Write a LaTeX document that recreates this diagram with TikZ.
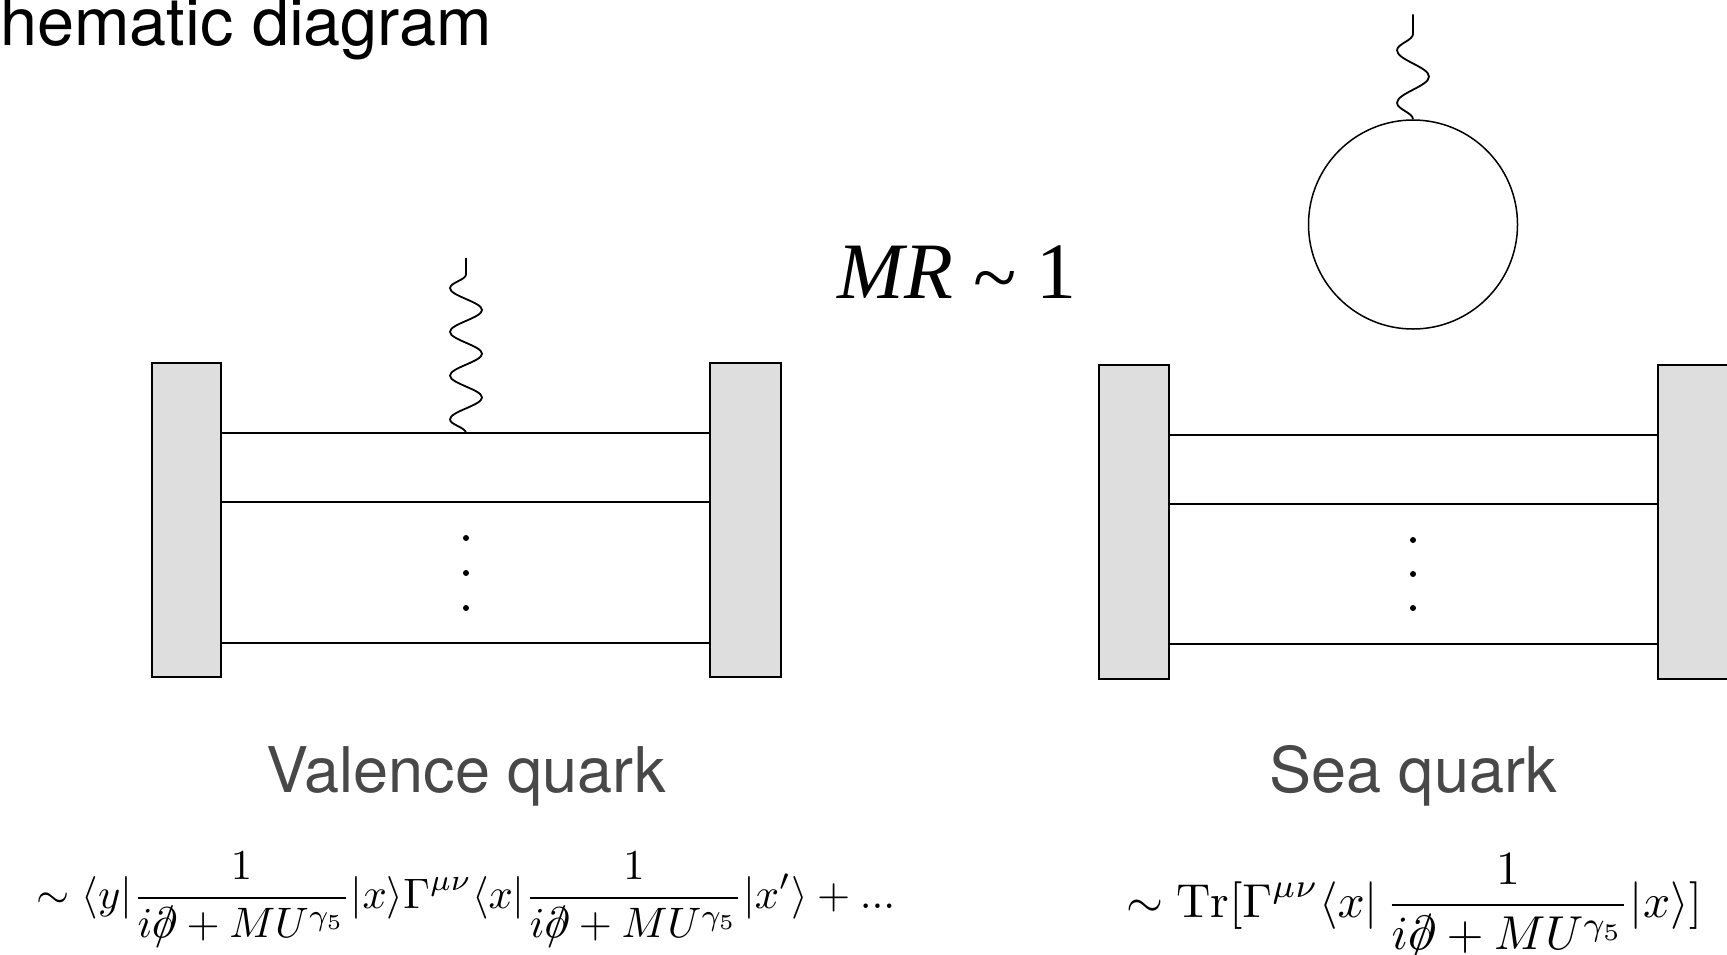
\documentclass[tikz,border=0pt]{standalone}
\usepackage{amsmath}
\usepackage{graphicx}
\usepackage{fontspec}
\newfontfamily\helvfont{TeX Gyre Heros}
\newfontfamily\timesfont{Liberation Serif}
\usetikzlibrary{decorations.pathmorphing}
\definecolor{blkgray}{HTML}{DEDEDE}
\definecolor{lblgray}{HTML}{484848}
\newcommand{\pslash}{\mathord{\ooalign{$\partial$\cr\hidewidth$/$\hidewidth\cr}}}
\newcommand{\prop}{\frac{1}{i\pslash+MU^{\gamma_5}}}
\newcommand{\bigmath}[2]{\scalebox{#1}{$\displaystyle #2$}}

\begin{document}
\begin{tikzpicture}[
    x=0.5pt, y=-0.5pt,
    blk/.style={fill=blkgray, draw=black, line width=1pt},
    qline/.style={draw=black, line width=0.75pt},
    photon/.style={draw=black, line width=0.9pt, decorate},
    dotc/.style={circle, fill=black, inner sep=0pt, minimum size=3pt},
    ttl/.style={font=\helvfont\fontsize{33.3}{38}\selectfont, inner sep=0pt},
    lbl/.style={font=\helvfont\fontsize{31.5}{36}\selectfont, text=lblgray, inner sep=0pt},
    frm/.style={inner sep=0pt},
]
\useasboundingbox (0,0) rectangle (1727,954);
\node[ttl, anchor=base west] (title) at (0,45) {hematic diagram};
% valence quark
\fill[blk] (152,363) rectangle (221,677);
\fill[blk] (710,363) rectangle (781,677);
\draw[qline] (221,433) -- (710,433);
\draw[qline] (221,502) -- (710,502);
\draw[qline] (221,643) -- (710,643);
\node[dotc] (vd1) at (466,538) {};
\node[dotc] (vd2) at (466,573) {};
\node[dotc] (vd3) at (466,608) {};
\draw[photon, decoration={snake, amplitude=8pt, segment length=21.875pt}] (466,433) -- (466,258);
% sea quark
\fill[blk] (1099,365) rectangle (1169,679);
\fill[blk] (1658,365) rectangle (1740,679);
\draw[qline] (1169,435) -- (1658,435);
\draw[qline] (1169,504) -- (1658,504);
\draw[qline] (1169,644) -- (1658,644);
\node[dotc] (sd1) at (1413,540) {};
\node[dotc] (sd2) at (1413,574) {};
\node[dotc] (sd3) at (1413,608) {};
\node[circle, draw, line width=0.75pt, minimum size=104.5pt, inner sep=0pt] (loop) at (1413,224.5) {};
\draw[photon, decoration={snake, amplitude=8pt, segment length=26.25pt}] (loop.north) -- ++(0,-105);
% labels
\node[font=\timesfont\fontsize{40}{46}\selectfont, inner sep=0pt, anchor=base] (mr) at (957,298)
  {\textit{MR} \raisebox{-3pt}{\textasciitilde} 1};
\node[lbl, anchor=base] (valence) at (466,792) {Valence quark};
\node[lbl, anchor=base] (sea) at (1413,792) {Sea quark};
\node[frm, anchor=base] (valform) at (466,908.5)
  {\bigmath{2.13}{\sim\langle y|\prop|x\rangle\Gamma^{\mu\nu}\langle x|\prop|x'\rangle+...}};
\node[frm, anchor=base] (seaform) at (1414,917)
  {\bigmath{2.38}{\sim\mathrm{Tr}[\Gamma^{\mu\nu}\langle x|\,\prop|x\rangle]}};
\end{tikzpicture}
\end{document}
